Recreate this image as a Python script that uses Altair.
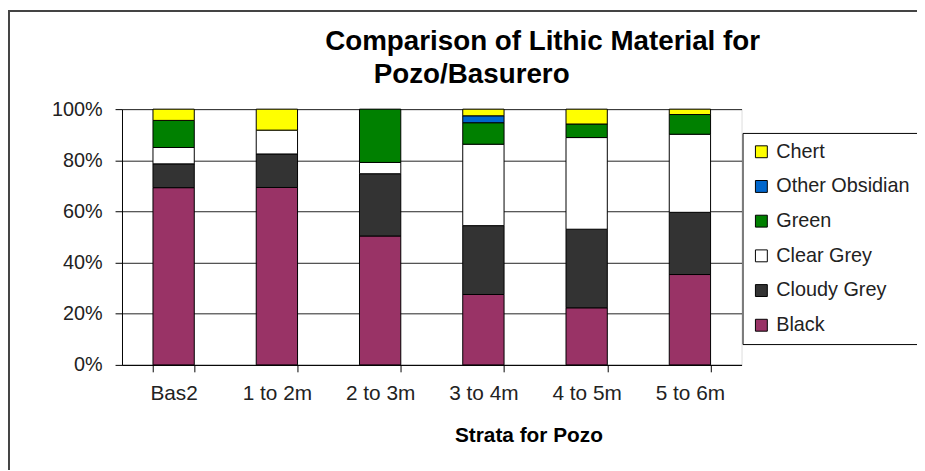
import altair as alt
import pandas as pd

strata = ["Bas2", "1 to 2m", "2 to 3m", "3 to 4m", "4 to 5m", "5 to 6m"]
materials = ["Black", "Cloudy Grey", "Clear Grey", "Green", "Other Obsidian", "Chert"]
colors = ["#993366", "#333333", "#FFFFFF", "#008000", "#0066CC", "#FFFF00"]

black = [69.3, 69.3, 50.3, 27.5, 22.3, 35.3]
cloudy_grey = [9.3, 13.1, 24.3, 26.9, 30.7, 24.3]
clear_grey = [6.4, 9.3, 4.4, 31.8, 35.8, 30.5]
green = [10.6, 0.0, 20.8, 8.4, 5.3, 7.7]
other_obsidian = [0.0, 0.0, 0.0, 2.7, 0.0, 0.0]
chert = [4.4, 8.2, 0.0, 2.6, 5.8, 2.1]

title_line_1 = ["Comparison of Lithic Material for"]
title_line_2 = ["Pozo/Basurero"]

series = [black, cloudy_grey, clear_grey, green, other_obsidian, chert]
rows = []
for rank, (m, vals) in enumerate(zip(materials, series)):
    for s, v in zip(strata, vals):
        if v > 0:
            rows.append({"Strata": s, "Material": m, "Value": v, "rank": rank})
df = pd.DataFrame(rows)

legend_order = materials[::-1]
legend_colors = colors[::-1]

FONT = "Liberation Sans"
W, H = 625, 258
PAD = {"left": 115, "top": 100, "right": 177, "bottom": 104}

bars = alt.Chart(df).mark_bar(stroke="black", strokeWidth=1).encode(
    x=alt.X("Strata:N", sort=strata,
            scale=alt.Scale(paddingInner=0.6, paddingOuter=0.3),
            axis=alt.Axis(title="Strata for Pozo", labelAngle=0, tickBand="extent",
                          domainColor="black", tickColor="black", tickSize=7,
                          labelFontSize=21, labelFont=FONT, labelColor="#222",
                          labelPadding=11, titleFont=FONT, titleFontSize=21,
                          titleFontWeight="bold", titleColor="black",
                          titleX=410, titleY=77, titleAlign="center",
                          titleBaseline="alphabetic")),
    y=alt.Y("Value:Q", stack="normalize",
            scale=alt.Scale(domain=[0, 1]),
            axis=alt.Axis(title=None, format=".0%", values=[0, 0.2, 0.4, 0.6, 0.8, 1.0],
                          domainColor="black", tickColor="black", tickSize=7,
                          labelFontSize=20, labelFont=FONT, labelColor="#222",
                          labelPadding=13, grid=True, gridColor="#222", gridWidth=1)),
    color=alt.Color("Material:N",
                    scale=alt.Scale(domain=legend_order, range=legend_colors),
                    legend=alt.Legend(title=None, orient="none", legendX=626, legendY=24,
                                      symbolType="square", symbolSize=144,
                                      symbolStrokeColor="black", symbolStrokeWidth=1,
                                      labelFont=FONT, labelFontSize=20, labelColor="#222",
                                      labelLimit=300,
                                      rowPadding=15, padding=9, labelOffset=5,
                                      strokeColor="black", fillColor="white")),
    order=alt.Order("rank:Q", sort="ascending"),
)

frame = alt.Chart(alt.Data(values=[{"a": 1}])).mark_rect(
    fill=None, stroke="#444", strokeWidth=2
).encode(
    x=alt.value(-PAD["left"] + 1), x2=alt.value(W + PAD["right"] + 3),
    y=alt.value(-PAD["top"] + 1), y2=alt.value(H + PAD["bottom"] + 3)
)

t1 = alt.Chart(pd.DataFrame({"t": title_line_1})).mark_text(
    font=FONT, fontSize=28, fontWeight="bold", color="black",
    align="left", baseline="alphabetic"
).encode(text="t:N", x=alt.value(205), y=alt.value(-60))

t2 = alt.Chart(pd.DataFrame({"t": title_line_2})).mark_text(
    font=FONT, fontSize=28, fontWeight="bold", color="black",
    align="left", baseline="alphabetic"
).encode(text="t:N", x=alt.value(254), y=alt.value(-26))

chart = alt.layer(frame, bars, t1, t2).properties(
    width=W, height=H,
    autosize=alt.AutoSizeParams(type="none"),
    padding=PAD,
).configure_view(stroke="#999", strokeWidth=1.5).configure(background="white")

chart.save("out.html", embed_options={"renderer": "svg", "actions": False})
